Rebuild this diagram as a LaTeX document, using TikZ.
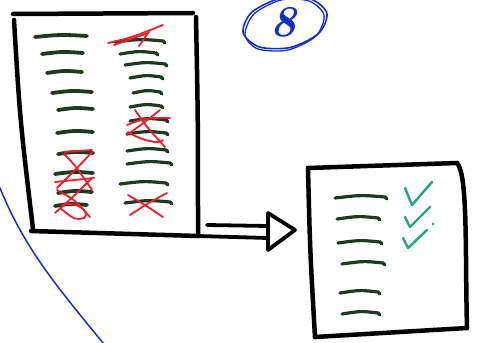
\documentclass[tikz,border=0pt]{standalone}
\usepackage{tikz}
\definecolor{inkgreen}{HTML}{1E3A1E}
\definecolor{inkred}{HTML}{E8202E}
\definecolor{inkblue}{HTML}{1530C0}
\definecolor{inkteal}{HTML}{22A584}
\tikzset{
  boxline/.style={line width=4.5pt, black, line cap=round, line join=round},
  arrline/.style={line width=3.8pt, black, line cap=round, line join=round},
  stroke/.style={line width=3.8pt, inkgreen, line cap=round},
  redx/.style={line width=1.8pt, inkred, line cap=round},
  tick/.style={line width=2.4pt, inkteal, line cap=round, line join=round},
  blueline/.style={line width=1.5pt, inkblue, line cap=round},
}
\begin{document}
\begin{tikzpicture}[x=1pt,y=-1pt]
\useasboundingbox (0,0) rectangle (477,343);
% blue line
\coordinate (b1) at (0,188);
\coordinate (b2) at (103,343);
\draw[blueline] (b1) .. controls (25,250) and (60,290) .. (b2);
% circled 8
\draw[inkblue, line width=1.6pt] plot[smooth cycle] coordinates {(326.9,13.3) (318.6,33.4) (290.6,47.4) (259.4,47.0) (243.1,32.7) (251.4,12.6) (279.4,-1.4) (310.6,-1.0)};
\draw[inkblue, line width=1.3pt] plot[smooth cycle] coordinates {(324,15) (316,36) (288,50) (258,49) (245,35) (254,14) (281,0) (309,1)};
\node[inkblue, inner sep=0pt] (eight) at (283,22) {\fontsize{44}{44}\selectfont\bfseries\itshape 8};
% left box
\coordinate (L-nw) at (13,14);
\coordinate (L-ne) at (195,14);
\coordinate (L-sw) at (31,231);
\coordinate (L-se) at (198,236);
\draw[boxline] (L-nw) -- (193,13);
\draw[boxline] (14,20) .. controls (20,120) .. (33,229);
\draw[boxline] (196,17) .. controls (198,120) .. (L-se);
\draw[boxline] (L-sw) -- (L-se);
% left column dashes
\foreach \a/\b/\y in {35/87/36,42/83/53,47/82/72,52/92/92,58/93/109,57/93/132,58/93/153,55/93/173,58/92/192,55/87/205}
  \draw[stroke] (\a,\y+1) .. controls ({(\a+\b)/2},\y-1.5) .. (\b,\y);
% right column dashes
\foreach \a/\b/\y in {115/165/41,120/158/53,125/167/64,130/163/77,133/162/92,130/163/106,130/168/120,127/168/133,127/168/150,127/172/163,120/168/183,125/172/202}
  \draw[stroke, line width=3.2pt] (\a,\y+1) .. controls ({(\a+\b)/2},\y-2) .. (\b-2,\y) -- (\b,\y+2);
% red crosses
\draw[redx] (108,43) .. controls (130,38) .. (163,25);
\draw[redx] (114,45) -- (148,33) -- (139,46);
\draw[redx] (64,152) -- (92,150);
\draw[redx] (64,154) .. controls (75,165) .. (92,190);
\draw[redx] (92,152) .. controls (80,165) .. (57,188);
\draw[redx] (55,182) -- (94,178);
\draw[redx] (92,178) .. controls (75,195) .. (55,213);
\draw[redx] (57,190) .. controls (75,200) .. (90,217);
\draw[redx] (62,205) .. controls (75,200) and (92,212) .. (84,218) .. controls (75,220) .. (60,208);
\draw[redx] (135,110) .. controls (145,125) .. (165,147);
\draw[redx] (160,110) .. controls (145,122) .. (127,135);
\draw[redx] (127,125) .. controls (145,118) .. (170,118);
\draw[redx] (128,132) .. controls (140,140) and (160,145) .. (163,140);
\draw[redx] (128,195) .. controls (145,205) .. (163,217);
\draw[redx] (167,193) .. controls (150,202) .. (130,215);
% arrow
\coordinate (A-tip) at (295,230);
\coordinate (A-top) at (268,213);
\coordinate (A-bot) at (268,250);
\draw[arrline] (207,225) -- (268,226);
\draw[arrline] (L-se) -- (268,238);
\draw[arrline] (A-top) -- (A-tip) -- (A-bot) -- cycle;
% right box
\coordinate (R-nw) at (308,168);
\coordinate (R-ne) at (457,163);
\coordinate (R-sw) at (315,337);
\coordinate (R-se) at (467,328);
\draw[boxline] (R-nw) -- (R-ne);
\draw[boxline] (R-ne) .. controls (468,175) and (465,250) .. (R-se);
\draw[boxline] (R-sw) -- (R-se);
\draw[boxline] (R-nw) .. controls (310,250) .. (R-sw);
\foreach \a/\b/\y in {335/387/197,337/380/218,338/382/242,342/385/263,340/380/292,342/380/313}
  \draw[stroke, line width=3.2pt] (\a,\y+1) .. controls ({(\a+\b)/2},\y-2) .. (\b-2,\y) -- (\b,\y+2);
% checkmarks
\draw[tick] (405,188) -- (412,205) -- (432,182);
\draw[tick] (405,217) -- (410,227) -- (430,207);
\fill[inkteal] (433,224) circle (1.5pt);
\draw[tick] (403,238) -- (408,248) -- (427,230);
\end{tikzpicture}
\end{document}
